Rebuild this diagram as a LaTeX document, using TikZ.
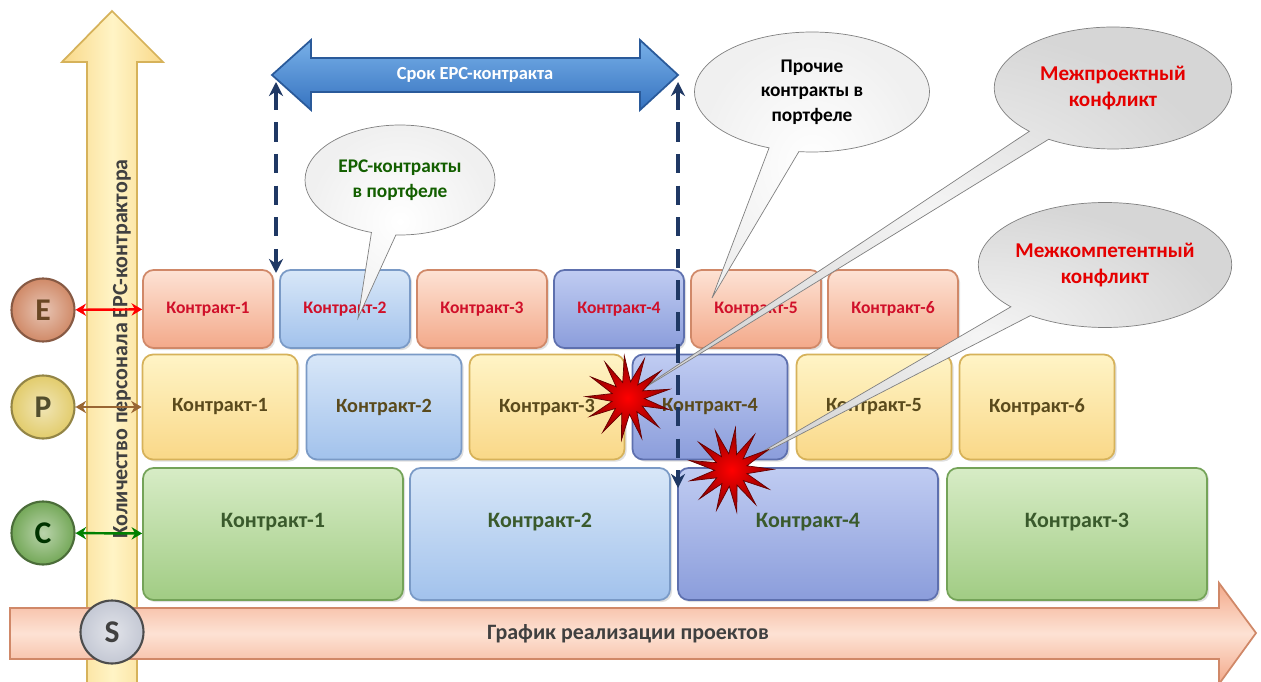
\documentclass[tikz,border=0pt]{standalone}
\usepackage{fontspec}
\setmainfont{Carlito}
\usetikzlibrary{shapes.geometric,shapes.callouts,arrows.meta,shadows}

% fills: A = top, B = bottom, D = border
\definecolor{salA}{HTML}{FDE2D4}
\definecolor{salB}{HTML}{F3A98A}
\definecolor{salD}{HTML}{D08868}
\definecolor{bluA}{HTML}{D8E7F8}
\definecolor{bluB}{HTML}{A2C2EC}
\definecolor{bluD}{HTML}{7A9AC6}
\definecolor{perA}{HTML}{C0CCF2}
\definecolor{perB}{HTML}{8B9DDB}
\definecolor{perD}{HTML}{5E70AE}
\definecolor{yelA}{HTML}{FFF4C6}
\definecolor{yelB}{HTML}{F9D888}
\definecolor{yelD}{HTML}{D6B25A}
\definecolor{grnA}{HTML}{D7ECC6}
\definecolor{grnB}{HTML}{A1CC84}
\definecolor{grnD}{HTML}{74A358}
\definecolor{navy}{HTML}{1F3864}
\definecolor{termA}{HTML}{78B0E8}
\definecolor{termB}{HTML}{3673C0}
\definecolor{termD}{HTML}{2A5A9A}
\definecolor{etext}{HTML}{D0102A}
\definecolor{ptext}{HTML}{5A4A1C}
\definecolor{ctext}{HTML}{3A5A2C}
% phase balls
\definecolor{eball}{HTML}{D08A68}
\definecolor{pball}{HTML}{E2CC6C}
\definecolor{cball}{HTML}{74A858}
\definecolor{sball}{HTML}{C4C8D4}

\tikzset{
  cbox/.style={rounded corners=6pt, line width=1pt, font=\bfseries,
    drop shadow={opacity=0.25, shadow xshift=1.2pt, shadow yshift=-1.2pt}},
  salbox/.style={cbox, draw=salD, top color=salA, bottom color=salB},
  blubox/.style={cbox, draw=bluD, top color=bluA, bottom color=bluB},
  perbox/.style={cbox, draw=perD, top color=perA, bottom color=perB},
  yelbox/.style={cbox, draw=yelD, top color=yelA, bottom color=yelB},
  grnbox/.style={cbox, draw=grnD, top color=grnA, bottom color=grnB},
  erow/.style={minimum width=2.6cm, minimum height=1.56cm, text=etext,
    font=\bfseries\fontsize{10}{12}\selectfont},
  prow/.style={minimum width=3.1cm, minimum height=2.1cm, text=ptext,
    font=\bfseries\fontsize{11.5}{13}\selectfont},
  crow/.style={minimum width=5.2cm, minimum height=2.64cm, text=ctext,
    text depth=16pt, font=\bfseries\fontsize{12.5}{14}\selectfont},
  ball/.style={circle, minimum size=1.26cm, inner sep=0pt, draw=#1!65!black, line width=1.2pt,
    inner color=#1!50!white, outer color=#1, font=\bfseries\fontsize{18}{18}\selectfont},
  note/.style={ellipse callout, draw=gray, align=center, inner sep=0pt,
    font=\bfseries\fontsize{11}{14}\selectfont},
  burst/.style={star, star points=13, star point ratio=2.6, minimum size=1.7cm,
    inner sep=0pt, draw=red!40!black, inner color=red, outer color=red!55!black},
}

\begin{document}
\begin{tikzpicture}[x=0.02cm, y=-0.02cm]

  \def\Ye{309};
  \def\Yp{407};
  \def\Yc{534};

  \fill[white] (0,0) rectangle (1261,682);
  \useasboundingbox (0,0) rectangle (1261,682);

  % axes
  \filldraw[draw=yelD, line width=1pt, left color=yelB, right color=yelB, middle color=yelA]
    (87,690) -- (87,62) -- (62,62) -- (112,11) -- (163,62) -- (137,62) -- (137,690) -- cycle;
  \filldraw[draw=salD, line width=1pt, top color=salB, bottom color=salB, middle color=salA]
    (10,608) -- (1219,608) -- (1219,583) -- (1256,633) -- (1219,684) -- (1219,659) -- (10,659) -- cycle;
  \node[text=darkgray, font=\bfseries\fontsize{12.5}{12}\selectfont] (xlabel) at (628,634)
    {График реализации проектов};
  \node[rotate=90, text=darkgray, font=\bfseries\fontsize{12.5}{12}\selectfont] (ylabel) at (122,349)
    {Количество персонала EPC-контрактора};

  % term of the EPC contract
  \filldraw[draw=termD, line width=1pt, top color=termA, bottom color=termB]
    (272,75) -- (311,40) -- (311,58) -- (640,58) -- (640,40) -- (678,75)
    -- (640,110) -- (640,92) -- (311,92) -- (311,110) -- cycle;
  \node[text=white, font=\bfseries\fontsize{10.5}{10}\selectfont] (term) at (475,75) {Срок EPC-контракта};

  % E row
  \node[salbox, erow] (e1) at (208,\Ye) {Контракт-1};
  \node[blubox, erow] (e2) at (345,\Ye) {Контракт-2};
  \node[salbox, erow] (e3) at (482,\Ye) {Контракт-3};
  \node[perbox, erow] (e4) at (619,\Ye) {Контракт-4};
  \node[salbox, erow] (e5) at (756,\Ye) {Контракт-5};
  \node[salbox, erow] (e6) at (893,\Ye) {Контракт-6};

  % P row
  \node[yelbox, prow] (p1) at (220,\Yp) {Контракт-1};
  \node[blubox, prow] (p2) at (384,\Yp) {Контракт-2};
  \node[yelbox, prow] (p3) at (547,\Yp) {Контракт-3};
  \node[perbox, prow] (p4) at (710,\Yp) {Контракт-4};
  \node[yelbox, prow] (p5) at (874,\Yp) {Контракт-5};
  \node[yelbox, prow] (p6) at (1037,\Yp) {Контракт-6};

  % C row
  \node[grnbox, crow] (c1) at (273,\Yc) {Контракт-1};
  \node[blubox, crow] (c2) at (540,\Yc) {Контракт-2};
  \node[perbox, crow] (c3) at (808,\Yc) {Контракт-4};
  \node[grnbox, crow] (c4) at (1077,\Yc) {Контракт-3};

  % phases
  \node[ball=eball, text=brown!55!black] (E) at (43,310) {E};
  \node[ball=pball, text=olive!45!black] (P) at (43,407) {P};
  \node[ball=cball, text=green!20!black] (C) at (43,533) {C};
  \node[ball=sball, draw=gray!60!black, text=darkgray] (S) at (112,632) {S};

  \draw[<->, >={Stealth[length=6pt, width=7pt]}, line width=1.4pt, red] (E) -- (e1);
  \draw[<->, >={Stealth[length=6pt, width=7pt]}, line width=1.4pt, brown!80!black] (P) -- (p1);
  \draw[<->, >={Stealth[length=6pt, width=7pt]}, line width=1.4pt, green!50!black] (C) -- (c1);

  % bounds of the EPC term
  \coordinate (lt) at (276,82);
  \coordinate (lb) at (276,273);
  \coordinate (rt) at (678,82);
  \coordinate (rb) at (678,488);
  \draw[<->, >={Stealth[length=8pt, width=8pt]}, navy, line width=2.6pt, dash pattern=on 11pt off 7pt] (lt) -- (lb);
  \draw[<->, >={Stealth[length=8pt, width=8pt]}, navy, line width=2.6pt, dash pattern=on 11pt off 7pt] (rt) -- (rb);

  % notes
  \coordinate (clash1) at (628,398);
  \coordinate (clash2) at (731,470);
  \coordinate (epcpt) at (358,318);
  \coordinate (otherpt) at (712,298);
  \node[note, inner color=white, outer color=gray!12, minimum width=3.8cm, minimum height=2.2cm,
    text=green!35!black!85!olive, callout absolute pointer={(epcpt)}] (epcnote) at (400,180)
    {EPC-контракты\\в портфеле};
  \node[note, inner color=white, outer color=gray!12, minimum width=4.7cm, minimum height=2.4cm,
    text=black, callout absolute pointer={(otherpt)}] (othernote) at (812,92)
    {Прочие\\контракты в\\портфеле};
  \node[note, inner color=gray!8, outer color=gray!32, minimum width=4.75cm, minimum height=2.44cm,
    text=red!90!black, font=\bfseries\fontsize{12}{15}\selectfont, callout pointer arc=12,
    callout absolute pointer={(clash1)}] (projnote) at (1113,88)
    {Межпроектный\\конфликт};
  \node[note, inner color=gray!8, outer color=gray!32, minimum width=4.8cm, minimum height=2.5cm,
    text=red!90!black, font=\bfseries\fontsize{12}{15}\selectfont, callout pointer arc=12,
    callout absolute pointer={(clash2)}] (compnote) at (1105,265)
    {Межкомпетентный\\конфликт};

  % clashes
  \node[burst, rotate=5] (b1) at (clash1) {};
  \node[burst, rotate=-6] (b2) at (clash2) {};
\end{tikzpicture}
\end{document}
